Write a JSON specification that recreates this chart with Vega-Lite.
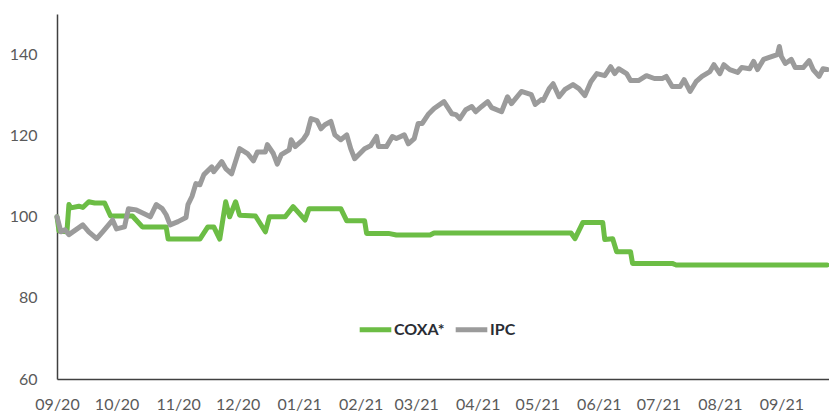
{
  "$schema": "https://vega.github.io/schema/vega-lite/v6.json",
  "width": 772,
  "height": 365,
  "autosize": "none",
  "padding": {"left": 57, "top": 14, "right": 0, "bottom": 32},
  "background": "white",
  "config": {"view": {"stroke": null}, "font": "Lato"},
  "data": {"values": [
      {"s": "COXA*", "d": "2020-09-01", "v": 100}, {"s": "COXA*", "d": "2020-09-02", "v": 96.5}, {"s": "COXA*", "d": "2020-09-06", "v": 96.3},
      {"s": "COXA*", "d": "2020-09-07", "v": 103}, {"s": "COXA*", "d": "2020-09-08", "v": 102.2}, {"s": "COXA*", "d": "2020-09-12", "v": 102.6},
      {"s": "COXA*", "d": "2020-09-14", "v": 102.3}, {"s": "COXA*", "d": "2020-09-17", "v": 103.7}, {"s": "COXA*", "d": "2020-09-20", "v": 103.4},
      {"s": "COXA*", "d": "2020-09-25", "v": 103.4}, {"s": "COXA*", "d": "2020-09-28", "v": 100.2}, {"s": "COXA*", "d": "2020-10-09", "v": 100.2},
      {"s": "COXA*", "d": "2020-10-14", "v": 97.5}, {"s": "COXA*", "d": "2020-10-26", "v": 97.5}, {"s": "COXA*", "d": "2020-10-27", "v": 94.5},
      {"s": "COXA*", "d": "2020-11-12", "v": 94.5}, {"s": "COXA*", "d": "2020-11-16", "v": 97.5}, {"s": "COXA*", "d": "2020-11-19", "v": 97.5},
      {"s": "COXA*", "d": "2020-11-22", "v": 94.5}, {"s": "COXA*", "d": "2020-11-25", "v": 103.7}, {"s": "COXA*", "d": "2020-11-27", "v": 100},
      {"s": "COXA*", "d": "2020-11-30", "v": 103.7}, {"s": "COXA*", "d": "2020-12-02", "v": 100.4}, {"s": "COXA*", "d": "2020-12-10", "v": 100.2},
      {"s": "COXA*", "d": "2020-12-15", "v": 96.3}, {"s": "COXA*", "d": "2020-12-17", "v": 100}, {"s": "COXA*", "d": "2020-12-25", "v": 100},
      {"s": "COXA*", "d": "2020-12-29", "v": 102.5}, {"s": "COXA*", "d": "2021-01-04", "v": 99.2}, {"s": "COXA*", "d": "2021-01-06", "v": 102},
      {"s": "COXA*", "d": "2021-01-22", "v": 102}, {"s": "COXA*", "d": "2021-01-25", "v": 99}, {"s": "COXA*", "d": "2021-02-03", "v": 99},
      {"s": "COXA*", "d": "2021-02-04", "v": 95.9}, {"s": "COXA*", "d": "2021-02-15", "v": 95.9}, {"s": "COXA*", "d": "2021-02-19", "v": 95.5},
      {"s": "COXA*", "d": "2021-03-08", "v": 95.5}, {"s": "COXA*", "d": "2021-03-10", "v": 96}, {"s": "COXA*", "d": "2021-05-18", "v": 96},
      {"s": "COXA*", "d": "2021-05-20", "v": 94.6}, {"s": "COXA*", "d": "2021-05-24", "v": 98.6}, {"s": "COXA*", "d": "2021-06-03", "v": 98.6},
      {"s": "COXA*", "d": "2021-06-04", "v": 94.4}, {"s": "COXA*", "d": "2021-06-08", "v": 94.6}, {"s": "COXA*", "d": "2021-06-10", "v": 91.4},
      {"s": "COXA*", "d": "2021-06-17", "v": 91.4}, {"s": "COXA*", "d": "2021-06-18", "v": 88.5}, {"s": "COXA*", "d": "2021-07-08", "v": 88.5},
      {"s": "COXA*", "d": "2021-07-10", "v": 88.1}, {"s": "COXA*", "d": "2021-09-24", "v": 88.1},
      {"s": "IPC", "d": "2020-09-01", "v": 100}, {"s": "IPC", "d": "2020-09-03", "v": 96.3}, {"s": "IPC", "d": "2020-09-05", "v": 96.8},
      {"s": "IPC", "d": "2020-09-07", "v": 95.6}, {"s": "IPC", "d": "2020-09-14", "v": 98}, {"s": "IPC", "d": "2020-09-17", "v": 96.3},
      {"s": "IPC", "d": "2020-09-21", "v": 94.6}, {"s": "IPC", "d": "2020-09-24", "v": 96.3}, {"s": "IPC", "d": "2020-09-29", "v": 99.2},
      {"s": "IPC", "d": "2020-10-01", "v": 97}, {"s": "IPC", "d": "2020-10-05", "v": 97.5}, {"s": "IPC", "d": "2020-10-07", "v": 102},
      {"s": "IPC", "d": "2020-10-11", "v": 101.7}, {"s": "IPC", "d": "2020-10-16", "v": 100.5}, {"s": "IPC", "d": "2020-10-18", "v": 100},
      {"s": "IPC", "d": "2020-10-21", "v": 103}, {"s": "IPC", "d": "2020-10-24", "v": 102}, {"s": "IPC", "d": "2020-10-26", "v": 100.5},
      {"s": "IPC", "d": "2020-10-28", "v": 98}, {"s": "IPC", "d": "2020-11-01", "v": 98.8}, {"s": "IPC", "d": "2020-11-05", "v": 99.8},
      {"s": "IPC", "d": "2020-11-06", "v": 103}, {"s": "IPC", "d": "2020-11-08", "v": 105}, {"s": "IPC", "d": "2020-11-10", "v": 108.2},
      {"s": "IPC", "d": "2020-11-12", "v": 107.9}, {"s": "IPC", "d": "2020-11-14", "v": 110.4}, {"s": "IPC", "d": "2020-11-18", "v": 112.3},
      {"s": "IPC", "d": "2020-11-19", "v": 111.1}, {"s": "IPC", "d": "2020-11-23", "v": 113.6}, {"s": "IPC", "d": "2020-11-25", "v": 111.9},
      {"s": "IPC", "d": "2020-11-28", "v": 110.6}, {"s": "IPC", "d": "2020-12-02", "v": 116.8}, {"s": "IPC", "d": "2020-12-06", "v": 115.6},
      {"s": "IPC", "d": "2020-12-09", "v": 113.8}, {"s": "IPC", "d": "2020-12-11", "v": 116}, {"s": "IPC", "d": "2020-12-15", "v": 116},
      {"s": "IPC", "d": "2020-12-16", "v": 117.8}, {"s": "IPC", "d": "2020-12-19", "v": 115.6}, {"s": "IPC", "d": "2020-12-21", "v": 113},
      {"s": "IPC", "d": "2020-12-23", "v": 115.3}, {"s": "IPC", "d": "2020-12-27", "v": 116.5}, {"s": "IPC", "d": "2020-12-28", "v": 119},
      {"s": "IPC", "d": "2020-12-30", "v": 117.3}, {"s": "IPC", "d": "2021-01-03", "v": 119}, {"s": "IPC", "d": "2021-01-05", "v": 120.5},
      {"s": "IPC", "d": "2021-01-07", "v": 124.2}, {"s": "IPC", "d": "2021-01-10", "v": 123.7}, {"s": "IPC", "d": "2021-01-12", "v": 121.7},
      {"s": "IPC", "d": "2021-01-14", "v": 122.7}, {"s": "IPC", "d": "2021-01-17", "v": 123.5}, {"s": "IPC", "d": "2021-01-19", "v": 120.2},
      {"s": "IPC", "d": "2021-01-22", "v": 119}, {"s": "IPC", "d": "2021-01-25", "v": 120.2}, {"s": "IPC", "d": "2021-01-27", "v": 116.8},
      {"s": "IPC", "d": "2021-01-29", "v": 114.3}, {"s": "IPC", "d": "2021-02-03", "v": 116.8}, {"s": "IPC", "d": "2021-02-06", "v": 117.5},
      {"s": "IPC", "d": "2021-02-09", "v": 119.8}, {"s": "IPC", "d": "2021-02-10", "v": 117.3}, {"s": "IPC", "d": "2021-02-14", "v": 117.3},
      {"s": "IPC", "d": "2021-02-17", "v": 119.8}, {"s": "IPC", "d": "2021-02-19", "v": 119.3}, {"s": "IPC", "d": "2021-02-23", "v": 120.2},
      {"s": "IPC", "d": "2021-02-25", "v": 118}, {"s": "IPC", "d": "2021-02-28", "v": 119.3}, {"s": "IPC", "d": "2021-03-02", "v": 123},
      {"s": "IPC", "d": "2021-03-04", "v": 123}, {"s": "IPC", "d": "2021-03-07", "v": 125.2}, {"s": "IPC", "d": "2021-03-10", "v": 126.7},
      {"s": "IPC", "d": "2021-03-15", "v": 128.4}, {"s": "IPC", "d": "2021-03-19", "v": 125.4}, {"s": "IPC", "d": "2021-03-21", "v": 125.2},
      {"s": "IPC", "d": "2021-03-23", "v": 124.2}, {"s": "IPC", "d": "2021-03-26", "v": 126.4}, {"s": "IPC", "d": "2021-03-29", "v": 127.2},
      {"s": "IPC", "d": "2021-03-31", "v": 125.9}, {"s": "IPC", "d": "2021-04-03", "v": 127.2}, {"s": "IPC", "d": "2021-04-06", "v": 128.4},
      {"s": "IPC", "d": "2021-04-08", "v": 126.9}, {"s": "IPC", "d": "2021-04-13", "v": 125.9}, {"s": "IPC", "d": "2021-04-16", "v": 129.6},
      {"s": "IPC", "d": "2021-04-18", "v": 127.9}, {"s": "IPC", "d": "2021-04-23", "v": 130.9}, {"s": "IPC", "d": "2021-04-28", "v": 130.1},
      {"s": "IPC", "d": "2021-04-30", "v": 127.7}, {"s": "IPC", "d": "2021-05-03", "v": 128.9}, {"s": "IPC", "d": "2021-05-04", "v": 128.7},
      {"s": "IPC", "d": "2021-05-07", "v": 131.6}, {"s": "IPC", "d": "2021-05-09", "v": 132.8}, {"s": "IPC", "d": "2021-05-12", "v": 129.6},
      {"s": "IPC", "d": "2021-05-15", "v": 131.4}, {"s": "IPC", "d": "2021-05-19", "v": 132.6}, {"s": "IPC", "d": "2021-05-22", "v": 131.6},
      {"s": "IPC", "d": "2021-05-25", "v": 129.9}, {"s": "IPC", "d": "2021-05-28", "v": 133.3}, {"s": "IPC", "d": "2021-05-31", "v": 135.3},
      {"s": "IPC", "d": "2021-06-04", "v": 134.8}, {"s": "IPC", "d": "2021-06-07", "v": 137}, {"s": "IPC", "d": "2021-06-09", "v": 135.3},
      {"s": "IPC", "d": "2021-06-11", "v": 136.5}, {"s": "IPC", "d": "2021-06-15", "v": 135.3}, {"s": "IPC", "d": "2021-06-17", "v": 133.6},
      {"s": "IPC", "d": "2021-06-21", "v": 133.6}, {"s": "IPC", "d": "2021-06-25", "v": 134.8}, {"s": "IPC", "d": "2021-06-29", "v": 134.1},
      {"s": "IPC", "d": "2021-07-03", "v": 134.1}, {"s": "IPC", "d": "2021-07-05", "v": 134.6}, {"s": "IPC", "d": "2021-07-08", "v": 132.1},
      {"s": "IPC", "d": "2021-07-12", "v": 132.1}, {"s": "IPC", "d": "2021-07-14", "v": 133.8}, {"s": "IPC", "d": "2021-07-17", "v": 130.9},
      {"s": "IPC", "d": "2021-07-20", "v": 133.3}, {"s": "IPC", "d": "2021-07-23", "v": 134.6}, {"s": "IPC", "d": "2021-07-27", "v": 135.8},
      {"s": "IPC", "d": "2021-07-29", "v": 137.5}, {"s": "IPC", "d": "2021-08-01", "v": 135.3}, {"s": "IPC", "d": "2021-08-03", "v": 137.5},
      {"s": "IPC", "d": "2021-08-06", "v": 136.3}, {"s": "IPC", "d": "2021-08-10", "v": 135.6}, {"s": "IPC", "d": "2021-08-12", "v": 136.8},
      {"s": "IPC", "d": "2021-08-16", "v": 136.5}, {"s": "IPC", "d": "2021-08-18", "v": 138.3}, {"s": "IPC", "d": "2021-08-20", "v": 136.3},
      {"s": "IPC", "d": "2021-08-23", "v": 138.8}, {"s": "IPC", "d": "2021-08-27", "v": 139.5}, {"s": "IPC", "d": "2021-08-30", "v": 140},
      {"s": "IPC", "d": "2021-08-31", "v": 142}, {"s": "IPC", "d": "2021-09-01", "v": 139.5}, {"s": "IPC", "d": "2021-09-03", "v": 137.8},
      {"s": "IPC", "d": "2021-09-06", "v": 138.8}, {"s": "IPC", "d": "2021-09-08", "v": 136.8}, {"s": "IPC", "d": "2021-09-12", "v": 136.8},
      {"s": "IPC", "d": "2021-09-15", "v": 138.5}, {"s": "IPC", "d": "2021-09-17", "v": 136.3}, {"s": "IPC", "d": "2021-09-20", "v": 134.6},
      {"s": "IPC", "d": "2021-09-22", "v": 136.5}, {"s": "IPC", "d": "2021-09-24", "v": 136.3}
  ]},
  "mark": {"type": "line", "strokeWidth": 5, "strokeJoin": "round", "strokeCap": "round"},
  "encoding": {
    "x": {
      "field": "d", "type": "temporal", "title": null,
      "scale": {"type": "utc", "domain": [{"year": 2020, "month": 9, "date": 1, "utc": true}, {"year": 2021, "month": 9, "date": 25, "utc": true}]},
      "axis": {
        "labelExpr": "utcFormat(datum.value, '%m/%y')",
        "tickCount": {"interval": "month", "step": 1},
        "ticks": false, "grid": false,
        "domainColor": "#404040", "domainWidth": 1.5,
        "labelFont": "Lato", "labelFontSize": 16, "labelColor": "#5a5a5a",
        "labelPadding": 17, "labelOverlap": false, "labelFlush": false
      }
    },
    "y": {
      "field": "v", "type": "quantitative", "title": null,
      "scale": {"domain": [60, 150], "nice": false, "zero": false},
      "axis": {
        "values": [60, 80, 100, 120, 140],
        "ticks": false, "grid": false,
        "domainColor": "#404040", "domainWidth": 1.5,
        "labelFont": "Lato", "labelFontSize": 16, "labelColor": "#5a5a5a",
        "labelPadding": 20
      }
    },
    "color": {
      "field": "s", "type": "nominal",
      "scale": {"domain": ["COXA*", "IPC"], "range": ["#6cbd45", "#9b9b9b"]},
      "legend": {
        "title": null, "orient": "none", "direction": "horizontal",
        "legendX": 300, "legendY": 297,
        "symbolType": "stroke", "symbolSize": 1000, "symbolStrokeWidth": 5,
        "labelFont": "Lato", "labelFontSize": 16, "labelFontWeight": "bold", "labelColor": "#2a2d34",
        "labelOffset": 0, "columnPadding": 0, "padding": 0
      }
    }
  }
}
